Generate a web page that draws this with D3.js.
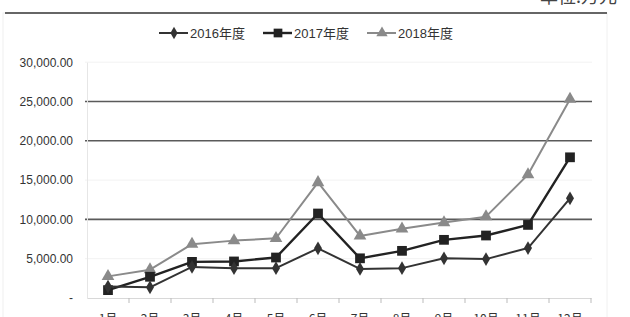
<!DOCTYPE html>
<html><head><meta charset="utf-8">
<script src="https://cdn.jsdelivr.net/npm/d3@7"></script>
<style>body{margin:0;background:#fff}svg{display:block}</style>
</head><body>
<script>
const months = ["1月","2月","3月","4月","5月","6月","7月","8月","9月","10月","11月","12月"];
const s2016 = [1450,1360,3950,3800,3800,6320,3700,3800,5050,4950,6350,12680];
const s2017 = [1000,2700,4600,4650,5150,10750,5050,6000,7400,7950,9300,17900];
const s2018 = [2750,3600,6850,7300,7600,14700,7900,8800,9600,10350,15700,25300];
const yTicks = [0,5000,10000,15000,20000,25000,30000];
const seriesNames = ["2016年度","2017年度","2018年度"];

const W=630,H=317;
const svg=d3.select("body").append("svg").attr("width",W).attr("height",H);
const font="'Liberation Sans', Arial, 'Noto Sans CJK SC', sans-serif";

// frame + top rule
svg.append("rect").attr("x",3).attr("y",13).attr("width",604).attr("height",310)
  .attr("fill","none").attr("stroke","#f0f0f0");
svg.append("line").attr("x1",5).attr("x2",607).attr("y1",13).attr("y2",13)
  .attr("stroke","#666").attr("stroke-width",2.2);
svg.append("text").attr("x",617).attr("y",3).attr("text-anchor","end")
  .attr("font-family","'Noto Sans CJK SC', sans-serif").attr("font-size",18)
  .attr("fill","#444").text("单位:万元");

const x=d3.scaleBand().domain(months).range([87,591]);
const y=d3.scaleLinear().domain([0,30000]).range([298,62.2]);

// gridlines
const strong=new Set([10000,20000,25000]);
svg.append("g").selectAll("line").data(yTicks.filter(d=>d>0)).join("line")
  .attr("x1",85).attr("x2",592).attr("y1",d=>y(d)).attr("y2",d=>y(d))
  .attr("stroke",d=>strong.has(d)?"#5a5a5a":"#f2f2f2")
  .attr("stroke-width",d=>strong.has(d)?1.6:1);

// y axis
const yAxis=svg.append("g").attr("transform","translate(87,0)")
  .call(d3.axisLeft(y).tickValues(yTicks).tickSize(0).tickPadding(14)
    .tickFormat(d=>d===0?"-":d3.format(",.2f")(d)));
yAxis.select(".domain").attr("stroke","#e6e6e6");
yAxis.selectAll("text").attr("font-family",font).attr("font-size",12).attr("fill","#333");

// x axis
const xAxis=svg.append("g").attr("transform","translate(0,298)")
  .call(d3.axisBottom(x).tickSize(0).tickPadding(14));
xAxis.select(".domain").attr("stroke","#d8d8d8");
xAxis.selectAll("text").attr("font-family","'Noto Sans CJK SC', sans-serif").attr("font-size",12).attr("fill","#333").attr("dy","0.9em");
xAxis.append("g").selectAll("line").data(months).join("line")
  .attr("x1",d=>x(d)+x.bandwidth()).attr("x2",d=>x(d)+x.bandwidth())
  .attr("y1",0).attr("y2",5).attr("stroke","#bbb");

const cx=d=>x(d)+x.bandwidth()/2;
const series=[
  {name:seriesNames[0],vals:s2016,color:"#333",w:2,sym:d3.symbolDiamond,size:55},
  {name:seriesNames[1],vals:s2017,color:"#222",w:2.4,sym:d3.symbolSquare,size:95},
  {name:seriesNames[2],vals:s2018,color:"#8a8a8a",w:2,sym:d3.symbolTriangle,size:70}
];
const line=d3.line().x((d,i)=>cx(months[i])).y(d=>y(d));
[...series].reverse().forEach(s=>{
  svg.append("path").datum(s.vals).attr("d",line).attr("fill","none")
    .attr("stroke",s.color).attr("stroke-width",s.w).attr("stroke-linejoin","round");
  svg.append("g").selectAll("path").data(s.vals).join("path")
    .attr("transform",(d,i)=>`translate(${cx(months[i])},${y(d)})`)
    .attr("d",d3.symbol().type(s.sym).size(s.size)).attr("fill",s.color);
});

// legend
const legX=[159,263,367];
series.forEach((s,i)=>{
  const g=svg.append("g").attr("transform",`translate(${legX[i]},33)`);
  g.append("line").attr("x1",0).attr("x2",29).attr("stroke",s.color).attr("stroke-width",s.w);
  g.append("path").attr("transform","translate(15,0)")
    .attr("d",d3.symbol().type(s.sym).size(s.size*0.8)).attr("fill",s.color);
  g.append("text").attr("x",31).attr("y",4.5).attr("font-family",font)
    .attr("font-size",13).attr("fill","#333").text(s.name);
});
</script>
</body></html>
